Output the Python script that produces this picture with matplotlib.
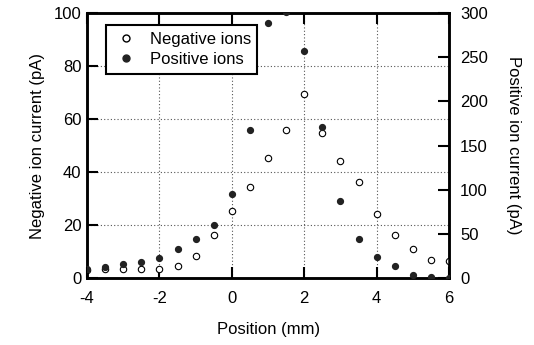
import numpy as np
import matplotlib
matplotlib.use('Agg')
import matplotlib.pyplot as plt
from matplotlib.lines import Line2D

plt.rcParams['font.family'] = ['Liberation Sans', 'DejaVu Sans']
plt.rcParams['axes.unicode_minus'] = False

# Data
position = [-4, -3.5, -3, -2.5, -2, -1.5, -1, -0.5, 0, 0.5, 1, 1.5, 2,
            2.5, 3, 3.5, 4, 4.5, 5, 5.5, 6]
negative_ions = [3.0, 3.3, 3.3, 3.3, 3.5, 4.4, 8.2, 16.3, 25.4, 34.2, 45.5, 55.8, 69.3,
                 54.7, 44.2, 36.1, 24.3, 16.2, 11.1, 6.9, 6.5]
positive_ions = [10, 12.8, 15.5, 18.5, 23, 32.5, 44, 59.7, 94.8, 168, 289, 301, 257,
                 171, 87.2, 43.8, 23.8, 13.2, 3.8, 1.5, 0.3]

fig = plt.figure(figsize=(5.34, 3.45), dpi=100)
ax = fig.add_axes([0.163, 0.194, 0.678, 0.768])
ax2 = ax.twinx()

ax.plot(position, negative_ions, 'o', ms=4.6, mfc='white', mec='black', mew=0.8, zorder=3)
ax2.plot(position, positive_ions, 'o', ms=4.2, mfc='#222222', mec='#222222', zorder=3)

ax.set_xlim(-4, 6)
ax.set_ylim(0, 100)
ax2.set_ylim(0, 300)
ax.set_xticks([-4, -2, 0, 2, 4, 6])
ax.set_yticks([0, 20, 40, 60, 80, 100])
ax2.set_yticks([0, 50, 100, 150, 200, 250, 300])

ax.grid(True, linestyle=(0, (1, 2)), color='#555555', linewidth=0.8)
ax.tick_params(direction='in', length=8, width=1.5, labelsize=12, top=True)
ax.tick_params(axis='x', pad=9)
ax.tick_params(axis='y', pad=4)
ax2.tick_params(direction='in', length=8, width=1.5, labelsize=12, pad=8)
for a in (ax, ax2):
    for s in a.spines.values():
        s.set_linewidth(1.8)

ax.set_xlabel('Position (mm)', fontsize=12, labelpad=12)
ax.set_ylabel('Negative ion current (pA)', fontsize=12, labelpad=6)
ax2.set_ylabel('Positive ion current (pA)', fontsize=12, rotation=270, labelpad=24)

handles = [Line2D([], [], marker='o', ls='', ms=5, mfc='white', mec='black'),
           Line2D([], [], marker='o', ls='', ms=5, mfc='#222222', mec='#222222')]
leg = ax.legend(handles, ['Negative ions', 'Positive ions'], loc='upper left',
                bbox_to_anchor=(0.03, 0.985), fontsize=12, fancybox=False,
                framealpha=1, edgecolor='black', handletextpad=0.6,
                borderpad=0.4, labelspacing=0.3, handlelength=1.6)
leg.get_frame().set_linewidth(1.5)
leg.set_zorder(10)

plt.savefig('out.png', dpi=100)
